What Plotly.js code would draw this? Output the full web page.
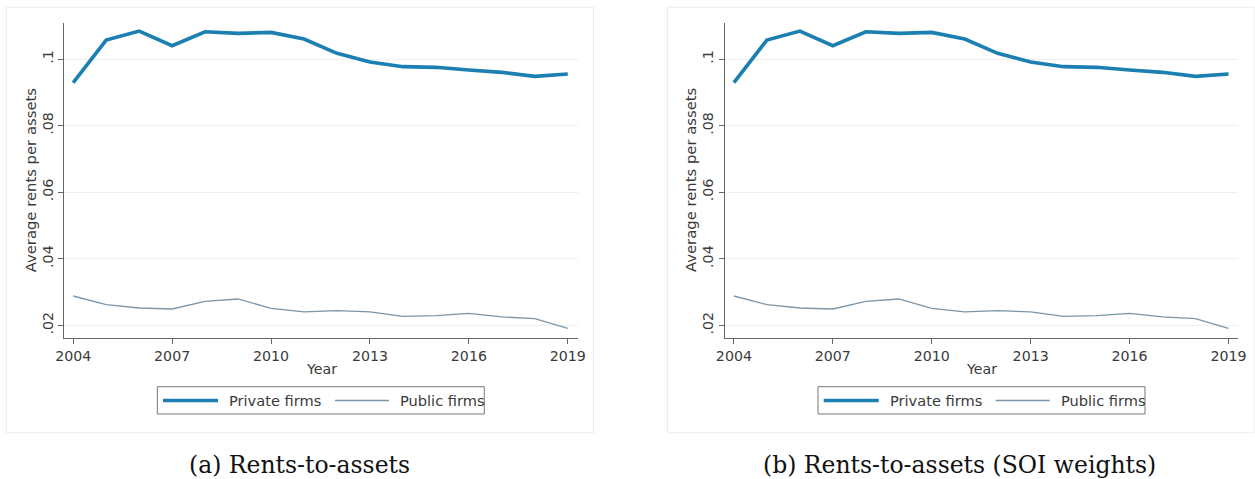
<!DOCTYPE html>
<html>
<head>
<meta charset="utf-8">
<script src="https://cdn.plot.ly/plotly-3.0.1.min.js"></script>
<style>
html,body{margin:0;padding:0;background:#fff;}
#chart{width:1255px;height:479px;}
</style>
</head>
<body>
<div id="chart"></div>
<script>
// ---- Data ----
const years = [2004, 2005, 2006, 2007, 2008, 2009, 2010, 2011, 2012, 2013, 2014, 2015, 2016, 2017, 2018, 2019];

// Panel (a): Rents-to-assets
const privateA = [0.0929, 0.1057, 0.1084, 0.1040, 0.1082, 0.1077, 0.1080, 0.1060, 0.1017, 0.0991, 0.0977, 0.0975, 0.0967, 0.0960, 0.0948, 0.0955];
const publicA  = [0.0288, 0.0262, 0.0252, 0.0249, 0.0272, 0.0279, 0.0251, 0.0240, 0.0244, 0.0240, 0.0227, 0.0229, 0.0236, 0.0225, 0.0220, 0.0191];

// Panel (b): Rents-to-assets (SOI weights)
const privateB = [0.0929, 0.1057, 0.1084, 0.1040, 0.1082, 0.1077, 0.1080, 0.1060, 0.1017, 0.0991, 0.0977, 0.0975, 0.0967, 0.0960, 0.0948, 0.0955];
const publicB  = [0.0288, 0.0262, 0.0252, 0.0249, 0.0272, 0.0279, 0.0251, 0.0240, 0.0244, 0.0240, 0.0227, 0.0229, 0.0236, 0.0225, 0.0220, 0.0191];

const xTickVals = [2004, 2007, 2010, 2013, 2016, 2019];
const yTickVals = [0.02, 0.04, 0.06, 0.08, 0.1];
const yTickText = ['.02', '.04', '.06', '.08', '.1'];

const seriesNames = ['Private firms', 'Public firms'];
const yTitle = 'Average rents per assets';
const xTitle = 'Year';
const captions = ['(a) Rents-to-assets', '(b) Rents-to-assets (SOI weights)'];

// ---- Styling / layout helpers ----
const W = 1255, H = 479;
const px = x => x / W;
const py = y => 1 - y / H;

const privColor = '#1b7fb2';
const pubColor = '#7b96aa';
const axisColor = '#666666';
const textColor = '#3a3a3a';
const sans = 'DejaVu Sans, sans-serif';

const panelOffset = 660.7;
const plotL = 64.3, plotR = 577.7, plotT = 22.7, plotB = 338;

function xaxisDef(off) {
  return {
    domain: [px(plotL + off), px(plotR + off)],
    range: [2003.73, 2019.30],
    tickvals: xTickVals,
    ticktext: xTickVals.map(String),
    ticks: 'outside', ticklen: 5, tickcolor: axisColor, tickwidth: 1,
    showline: true, linecolor: axisColor, linewidth: 1,
    showgrid: false, zeroline: false,
    tickfont: {family: sans, size: 14.2, color: textColor},
    fixedrange: true
  };
}
function yaxisDef() {
  return {
    domain: [py(plotB), py(plotT)],
    range: [0.01618, 0.11091],
    tickvals: yTickVals,
    ticktext: yTickText,
    tickangle: -90,
    ticks: 'outside', ticklen: 5, tickcolor: axisColor, tickwidth: 1,
    showline: true, linecolor: axisColor, linewidth: 1,
    showgrid: true, gridcolor: '#efefef', gridwidth: 1,
    zeroline: false,
    tickfont: {family: sans, size: 14.2, color: textColor},
    fixedrange: true
  };
}

const traces = [
  {x: years, y: privateA, xaxis: 'x', yaxis: 'y', type: 'scatter', mode: 'lines', name: seriesNames[0],
   line: {color: privColor, width: 3.6}, showlegend: false},
  {x: years, y: publicA, xaxis: 'x', yaxis: 'y', type: 'scatter', mode: 'lines', name: seriesNames[1],
   line: {color: pubColor, width: 1.3}, showlegend: false},
  {x: years, y: privateB, xaxis: 'x2', yaxis: 'y2', type: 'scatter', mode: 'lines', name: seriesNames[0],
   line: {color: privColor, width: 3.6}, showlegend: false},
  {x: years, y: publicB, xaxis: 'x2', yaxis: 'y2', type: 'scatter', mode: 'lines', name: seriesNames[1],
   line: {color: pubColor, width: 1.3}, showlegend: false}
];

const shapes = [];
const annotations = [];

[0, panelOffset].forEach((off, i) => {
  // graph region frame
  shapes.push({type: 'rect', xref: 'paper', yref: 'paper', layer: 'below',
    x0: px(6.7 + off), x1: px(593.3 + off), y0: py(432.7), y1: py(7.3),
    line: {color: '#ececec', width: 1}, fillcolor: 'rgba(0,0,0,0)'});
  // legend box
  shapes.push({type: 'rect', xref: 'paper', yref: 'paper',
    x0: px(157.3 + off), x1: px(484.3 + off), y0: py(414), y1: py(386.7),
    line: {color: '#777777', width: 1}, fillcolor: 'rgba(0,0,0,0)'});
  // legend samples
  shapes.push({type: 'line', xref: 'paper', yref: 'paper',
    x0: px(163 + off), x1: px(218 + off), y0: py(400.5), y1: py(400.5),
    line: {color: privColor, width: 3.6}});
  shapes.push({type: 'line', xref: 'paper', yref: 'paper',
    x0: px(335 + off), x1: px(389 + off), y0: py(400.5), y1: py(400.5),
    line: {color: pubColor, width: 1.3}});
  // legend texts
  annotations.push({xref: 'paper', yref: 'paper', x: px(227 + off), y: py(400.5),
    xanchor: 'left', yanchor: 'middle', showarrow: false, text: seriesNames[0],
    font: {family: sans, size: 14.6, color: textColor}});
  annotations.push({xref: 'paper', yref: 'paper', x: px(398 + off), y: py(400.5),
    xanchor: 'left', yanchor: 'middle', showarrow: false, text: seriesNames[1],
    font: {family: sans, size: 14.6, color: textColor}});
  // axis titles
  annotations.push({xref: 'paper', yref: 'paper', x: px(30 + off), y: py(180.3),
    xanchor: 'center', yanchor: 'middle', showarrow: false, text: yTitle, textangle: -90,
    font: {family: sans, size: 14.8, color: textColor}});
  annotations.push({xref: 'paper', yref: 'paper', x: px(321 + off), y: py(368.5),
    xanchor: 'center', yanchor: 'middle', showarrow: false, text: xTitle,
    font: {family: sans, size: 14.2, color: textColor}});
  // captions
  annotations.push({xref: 'paper', yref: 'paper', x: px(299.2 + off), y: py(464.5),
    xanchor: 'center', yanchor: 'middle', showarrow: false, text: captions[i],
    font: {family: 'DejaVu Serif, serif', size: 23.5, color: '#111111'}});
});

const layout = {
  width: W, height: H,
  margin: {l: 0, r: 0, t: 0, b: 0, pad: 0},
  paper_bgcolor: '#ffffff', plot_bgcolor: '#ffffff',
  showlegend: false,
  xaxis: xaxisDef(0), yaxis: yaxisDef(),
  xaxis2: Object.assign(xaxisDef(panelOffset), {anchor: 'y2'}),
  yaxis2: Object.assign(yaxisDef(), {anchor: 'x2'}),
  shapes: shapes,
  annotations: annotations
};
layout.xaxis.anchor = 'y';
layout.yaxis.anchor = 'x';

Plotly.newPlot('chart', traces, layout, {staticPlot: true, displayModeBar: false});
</script>
</body>
</html>
